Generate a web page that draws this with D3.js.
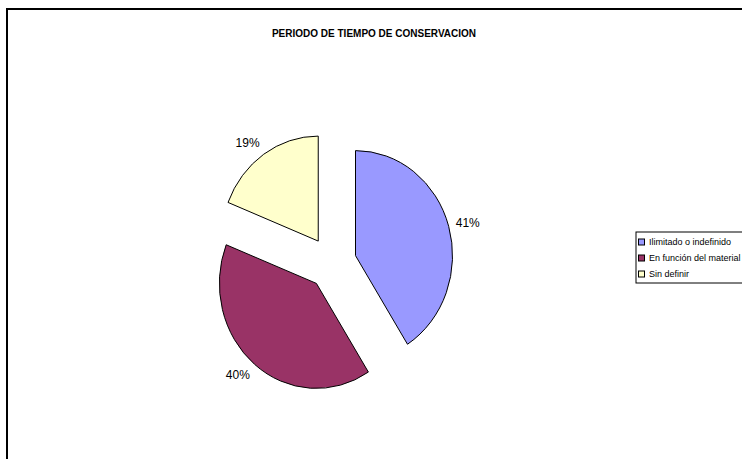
<!DOCTYPE html>
<html>
<head>
<meta charset="utf-8">
<script src="https://cdn.jsdelivr.net/npm/d3@7"></script>
<style>
  html, body { margin: 0; padding: 0; background: #fff; }
  svg { display: block; font-family: Arial, "Liberation Sans", sans-serif; }
</style>
</head>
<body>
<svg id="chart" width="742" height="459"></svg>
<script>
const title = "PERIODO DE TIEMPO DE CONSERVACION";
const categories = ["Ilimitado o indefinido", "En función del material", "Sin definir"];
const values = [41, 40, 19];
const colors = ["#9999FF", "#993366", "#FFFFCC"];

const svg = d3.select("#chart");

// outer frame (partially cropped)
svg.append("rect")
  .attr("x", 7).attr("y", 9)
  .attr("width", 800).attr("height", 500)
  .attr("fill", "#fff")
  .attr("stroke", "#000").attr("stroke-width", 2);

svg.append("text")
  .attr("x", 374).attr("y", 37)
  .attr("text-anchor", "middle")
  .attr("font-size", 10).attr("font-weight", "bold")
  .attr("fill", "#000")
  .text(title);

const cx = 332, cy = 263, r = 105, kx = 0.924, explode = 26.5;
const total = d3.sum(values);
const pie = d3.pie().sort(null).value(d => d)(values);
const arc = d3.arc().innerRadius(0).outerRadius(r);

const g = svg.append("g").attr("transform", `translate(${cx},${cy}) scale(${kx},1)`);
g.selectAll("path")
  .data(pie)
  .join("path")
  .attr("transform", d => {
    const a = (d.startAngle + d.endAngle) / 2;
    return `translate(${explode * Math.sin(a)},${-explode * Math.cos(a)})`;
  })
  .attr("d", arc)
  .attr("fill", (d, i) => colors[i])
  .attr("stroke", "#000")
  .attr("stroke-width", 1)
  .attr("vector-effect", "non-scaling-stroke");

// data labels
const lr = r + 8;
svg.selectAll("text.lbl")
  .data(pie)
  .join("text")
  .attr("class", "lbl")
  .attr("x", d => {
    const a = (d.startAngle + d.endAngle) / 2;
    const s = Math.sin(a);
    return cx + (explode + lr) * s * kx + 12 * Math.sign(s);
  })
  .attr("y", d => {
    const a = (d.startAngle + d.endAngle) / 2;
    const c = -Math.cos(a);
    return cy + (explode + lr) * c + 6 * c;
  })
  .attr("dy", "0.35em")
  .attr("text-anchor", "middle")
  .attr("font-size", 12)
  .attr("fill", "#000")
  .text(d => Math.round(d.value / total * 100) + "%");

// legend
const lg = svg.append("g").attr("transform", "translate(636,232)");
lg.append("rect")
  .attr("x", 0).attr("y", 0).attr("width", 200).attr("height", 51)
  .attr("fill", "#fff").attr("stroke", "#000").attr("stroke-width", 1);
const item = lg.selectAll("g.item")
  .data(categories)
  .join("g")
  .attr("class", "item")
  .attr("transform", (d, i) => `translate(0,${6.5 + i * 16})`);
item.append("rect")
  .attr("x", 2.5).attr("y", 0.5).attr("width", 6).attr("height", 6)
  .attr("fill", (d, i) => colors[i])
  .attr("stroke", "#000").attr("stroke-width", 1);
item.append("text")
  .attr("x", 13).attr("y", 3.5).attr("dy", "0.35em")
  .attr("font-size", 9).attr("fill", "#000")
  .text(d => d);
</script>
</body>
</html>
